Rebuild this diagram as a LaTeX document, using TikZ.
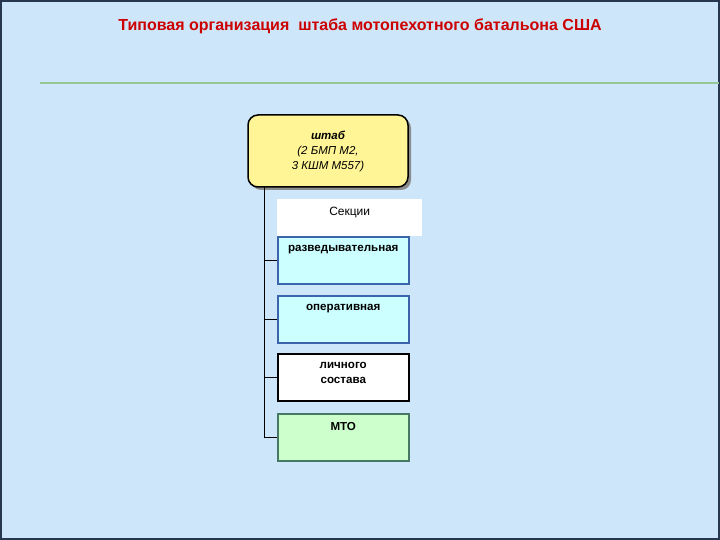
\documentclass[tikz,border=0pt]{standalone}
\usepackage{fontspec}
\setmainfont{Liberation Sans}
\usetikzlibrary{positioning, calc, shadows}
\definecolor{slidebg}{RGB}{206,230,250}
\definecolor{framedark}{RGB}{40,55,80}
\definecolor{titlered}{RGB}{204,0,0}
\definecolor{rulegreen}{RGB}{150,200,150}
\definecolor{hqyellow}{RGB}{255,245,150}
\definecolor{cellcyan}{RGB}{204,255,255}
\definecolor{celledge}{RGB}{60,100,170}
\definecolor{cellgreen}{RGB}{204,255,204}
\definecolor{greenedge}{RGB}{70,120,100}

\begin{document}
\begin{tikzpicture}[x=1pt, y=-1pt,
  section/.style={draw, line width=1.5pt, minimum width=131pt, minimum height=47pt, inner sep=0pt},
  caption/.style={font=\bfseries\fontsize{11.6}{15}\selectfont, align=center, anchor=north, yshift=-6pt},
  link/.style={black, line width=0.8pt}]
  \useasboundingbox (0,0) rectangle (720,540);
  % slide background and frame
  \fill[slidebg] (0,0) rectangle (720,540);
  \draw[framedark, line width=2pt] (1,1) rectangle (719,539);
  \node[titlered, font=\bfseries\fontsize{16}{18}\selectfont] (title) at (360,26)
    {Типовая организация\ \ штаба мотопехотного батальона США};
  \draw[rulegreen, line width=1.2pt] (40,83) -- (719,83);
  % headquarters
  \node[draw, line width=1.5pt, fill=hqyellow, rounded corners=10pt,
        drop shadow={shadow xshift=3pt, shadow yshift=-3pt, fill=black!45, opacity=1},
        minimum width=160pt, minimum height=72pt, align=center,
        font=\itshape\fontsize{11.5}{15}\selectfont] (hq) at (328,151)
    {\textbf{штаб}\\(2 БМП М2,\\3 КШМ М557)};
  % sections
  \node[fill=white, minimum width=145pt, minimum height=37pt, anchor=north west, inner sep=0pt,
        label={[font=\fontsize{12}{14}\selectfont, anchor=north, yshift=-5pt]north:Секции}] (sect) at (277,199) {};
  \node[section, draw=celledge, fill=cellcyan, anchor=north west,
        label={[caption]north:разведывательная}] (recon) at (277,236) {};
  \node[section, draw=celledge, fill=cellcyan, below=10.5pt of recon,
        label={[caption]north:оперативная}] (ops) {};
  \node[section, draw=black, fill=white, below=9.5pt of ops,
        label={[caption]north:личного\\состава}] (pers) {};
  \node[section, draw=greenedge, fill=cellgreen, below=11.5pt of pers,
        label={[caption]north:МТО}] (mto) {};
  % connectors
  \coordinate (trunk) at (264,187);
  \draw[link] (trunk) |- (mto.west);
  \foreach \b in {recon,ops,pers}
    \draw[link] (trunk |- \b.west) -- (\b.west);
\end{tikzpicture}
\end{document}
